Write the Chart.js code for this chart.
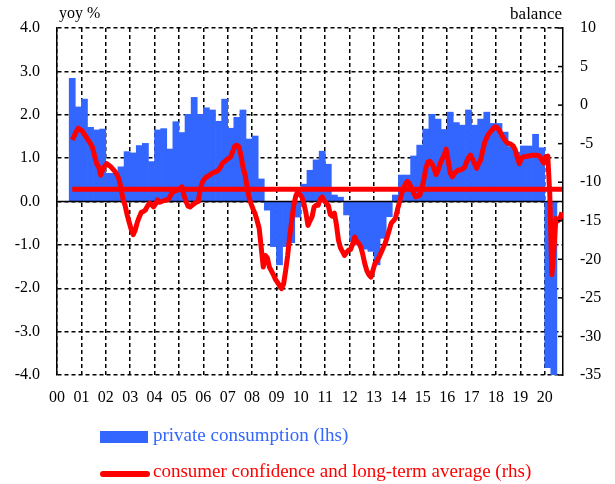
<!DOCTYPE html>
<html>
<head>
<meta charset="utf-8">
<script src="https://cdn.jsdelivr.net/npm/chart.js@4.4.1/dist/chart.umd.min.js"></script>
<style>
  html, body { margin: 0; padding: 0; background: #fff; }
  #wrap { position: relative; width: 615px; height: 484px; font-family: "Liberation Serif", serif; }
  canvas { position: absolute; left: 0; top: 0; }
  .lbl { position: absolute; font-size: 16px; line-height: 1; color: #000; white-space: nowrap; }
  .key { position: absolute; }
  .ktext { position: absolute; font-size: 19px; line-height: 1; white-space: nowrap; }
</style>
</head>
<body>
<div id="wrap">
  <canvas id="chart" width="615" height="484"></canvas>
  <span class="lbl" style="left:59px;top:5px">yoy %</span>
  <span class="lbl" style="right:53px;top:5px;font-size:17px">balance</span>
  <div class="key" style="left:100px;top:431px;width:48px;height:12px;background:#3366ff"></div>
  <span class="ktext" style="left:153px;top:425px;color:#3366ff">private consumption (lhs)</span>
  <div class="key" style="left:100px;top:471px;width:50px;height:6px;border-radius:3px;background:#ff0000"></div>
  <span class="ktext" style="left:153px;top:461px;color:#ff0000">consumer confidence and long-term average (rhs)</span>
</div>
<script>
// x axis runs in months since Jan 2000
const yearLabels = ["00", "01", "02", "03", "04", "05", "06", "07", "08", "09", "10",
  "11", "12", "13", "14", "15", "16", "17", "18", "19", "20"];
const axisMonths = 249; // through Sep 2020

// private consumption, yoy %, quarterly from 2000 Q3
const consStart = 6;
const consumption = [
  2.84, 2.18,
  2.36, 1.71, 1.65, 1.67,
  0.65, 0.65, 0.80, 1.15,
  1.12, 1.29, 1.34, 0.92,
  1.65, 1.68, 1.21, 1.84,
  1.59, 2.01, 2.40, 2.01,
  2.16, 2.11, 1.85, 2.36,
  1.69, 1.94, 2.11, 1.44,
  1.51, 0.52, -0.20, -1.04,
  -1.46, -1.04, -0.95, -0.36,
  0.40, 0.72, 0.96, 1.16,
  0.86, 0.15, 0.10, -0.31,
  -0.90, -1.00, -1.10, -1.15,
  -1.46, -0.85, -0.35, 0.15,
  0.61, 0.61, 1.05, 1.30,
  1.67, 2.01, 1.90, 1.66,
  2.06, 1.82, 1.76, 2.11,
  1.76, 1.90, 2.06, 1.80,
  1.80, 1.60, 1.26, 1.14,
  1.28, 1.28, 1.55, 1.24,
  -3.83, -4.60,
];

// consumer confidence, balance, monthly from Aug 2000
const confStart = 7;
const confidence = [
  -4.5, -4.0, -3.4, -3.0, -3.2,
  -3.4, -3.8, -4.2, -4.6, -5.0, -5.5, -6.6, -7.6, -8.0, -9.1, -8.3, -7.9,
  -7.6, -7.8, -8.0, -8.3, -8.6, -9.0, -9.6, -10.8, -12.2, -13.0, -14.2, -15.2,
  -16.1, -16.8, -16.2, -15.2, -14.5, -13.9, -13.8, -13.6, -13.1, -12.7, -12.9, -13.2,
  -12.8, -12.3, -12.6, -12.5, -12.4, -12.3, -12.3, -11.9, -11.4, -11.2, -11.1, -11.0,
  -10.8, -10.6, -11.7, -12.5, -13.1, -13.2, -13.0, -12.8, -12.6, -12.5, -10.9, -10.0,
  -9.6, -9.3, -9.2, -9.0, -8.8, -8.7, -8.6, -8.4, -8.0, -7.5, -7.3, -7.1,
  -6.9, -6.7, -6.0, -5.3, -5.2, -5.4, -6.5, -8.0, -9.0, -10.5, -12.0, -12.8,
  -13.5, -14.1, -15.0, -16.0, -18.5, -21.0, -19.5, -19.8, -21.0, -21.5, -22.0, -22.6,
  -23.0, -23.4, -23.8, -23.2, -21.5, -19.5, -17.0, -15.0, -13.0, -11.8, -11.2, -11.6,
  -11.9, -12.8, -14.0, -15.6, -15.0, -14.5, -13.2, -13.0, -13.0, -12.2, -11.9, -12.4,
  -12.7, -13.0, -14.2, -14.4, -14.0, -15.5, -17.5, -18.5, -19.0, -19.5, -19.1, -18.8,
  -18.7, -18.0, -17.1, -17.7, -17.9, -18.4, -19.4, -20.6, -21.5, -22.0, -22.3, -21.4,
  -20.5, -20.2, -19.7, -19.1, -18.5, -17.9, -17.1, -16.2, -15.3, -15.0, -14.7, -13.6,
  -12.6, -11.6, -10.8, -10.2, -9.9, -10.2, -10.8, -11.4, -11.9, -11.8, -11.7, -10.8,
  -9.7, -8.2, -7.4, -7.3, -7.6, -8.2, -9.0, -8.5, -7.6, -7.0, -6.5, -5.7,
  -7.2, -8.8, -9.3, -8.9, -8.6, -8.4, -8.4, -8.3, -8.1, -7.4, -6.8, -6.5,
  -7.0, -7.6, -8.2, -7.6, -7.1, -5.9, -4.8, -4.2, -3.7, -3.4, -3.1, -2.8,
  -2.9, -3.2, -3.7, -4.2, -4.6, -4.9, -5.0, -5.1, -5.3, -5.8, -6.8, -7.6,
  -6.9, -6.7, -6.7, -6.6, -6.6, -6.5, -6.5, -6.5, -6.5, -6.6, -7.1, -7.5,
  -6.7, -6.6, -11.6, -22.0, -18.8, -14.7, -15.0, -14.7, -13.9,
];
const longTermAvg = -10.9;

const tickFont = { family: "'Liberation Serif', serif", size: 16 };

const consPoints = consumption.map((v, i) => ({ x: consStart + 3 * i + 1.5, y: v }));
const confPoints = confidence.map((v, i) => ({ x: confStart + i + 0.5, y: v }));
const avgPoints = [
  { x: confPoints[0].x, y: longTermAvg },
  { x: confPoints[confPoints.length - 1].x, y: longTermAvg },
];

const chartExtras = {
  id: "chartExtras",
  afterDatasetDraw(chart, args) {
    // solid zero line on top of the bars
    if (args.meta.type !== "bar") return;
    const { ctx, chartArea } = chart;
    const y0 = chart.scales.y.getPixelForValue(0);
    ctx.save();
    ctx.strokeStyle = "#000";
    ctx.lineWidth = 1.5;
    ctx.beginPath();
    ctx.moveTo(chartArea.left, y0);
    ctx.lineTo(chartArea.right, y0);
    ctx.stroke();
    ctx.restore();
  },
  afterDraw(chart) {
    // short inward tick marks on the right axis
    const { ctx, chartArea } = chart;
    const s = chart.scales.y1;
    ctx.save();
    ctx.strokeStyle = "#000";
    ctx.lineWidth = 1.5;
    s.ticks.forEach((t) => {
      const py = s.getPixelForValue(t.value);
      ctx.beginPath();
      ctx.moveTo(chartArea.right - 5, py);
      ctx.lineTo(chartArea.right, py);
      ctx.stroke();
    });
    ctx.restore();
  },
};

new Chart(document.getElementById("chart"), {
  data: {
    datasets: [
      {
        type: "line",
        label: "consumer confidence",
        data: confPoints,
        yAxisID: "y1",
        borderColor: "#ff0000",
        borderWidth: 5,
        borderJoinStyle: "round",
        pointRadius: 0,
        tension: 0,
        order: 0,
      },
      {
        type: "line",
        label: "long-term average",
        data: avgPoints,
        yAxisID: "y1",
        borderColor: "#ff0000",
        borderWidth: 5,
        pointRadius: 0,
        order: 1,
      },
      {
        type: "bar",
        label: "private consumption",
        data: consPoints,
        yAxisID: "y",
        backgroundColor: "#3366ff",
        borderWidth: 0,
        barPercentage: 1,
        categoryPercentage: 1,
        order: 2,
      },
    ],
  },
  options: {
    responsive: false,
    animation: false,
    layout: { padding: { top: 28, bottom: 69, left: 0, right: 0 } },
    plugins: { legend: { display: false }, tooltip: { enabled: false } },
    scales: {
      x: {
        type: "linear",
        min: 0,
        max: axisMonths,
        offset: false,
        afterBuildTicks: (s) => {
          s.ticks = yearLabels.map((_, i) => ({ value: i * 12 }));
        },
        afterFit: (s) => { s.height = 40; },
        ticks: {
          color: "#000",
          font: tickFont,
          padding: 13,
          maxRotation: 0,
          autoSkip: false,
          callback: (v, i) => yearLabels[i],
        },
        grid: { offset: false, color: "#000", lineWidth: 1.5, drawTicks: false },
        border: { display: false, dash: [4, 3] },
      },
      y: {
        position: "left",
        min: -4,
        max: 4,
        afterFit: (s) => { s.width = 57; },
        ticks: {
          stepSize: 1,
          color: "#000",
          font: tickFont,
          padding: 17,
          callback: (v) => v.toFixed(1),
        },
        grid: { color: "#000", lineWidth: 1.5, drawTicks: false },
        border: { display: true, color: "#000", width: 1.5, dash: [4, 3] },
      },
      y1: {
        position: "right",
        min: -35,
        max: 10,
        afterFit: (s) => { s.width = 52; },
        ticks: { stepSize: 5, color: "#000", font: tickFont, padding: 17 },
        grid: { drawOnChartArea: false, drawTicks: false },
        border: { display: true, color: "#000", width: 1.5 },
      },
    },
  },
  plugins: [chartExtras],
});
</script>
</body>
</html>
